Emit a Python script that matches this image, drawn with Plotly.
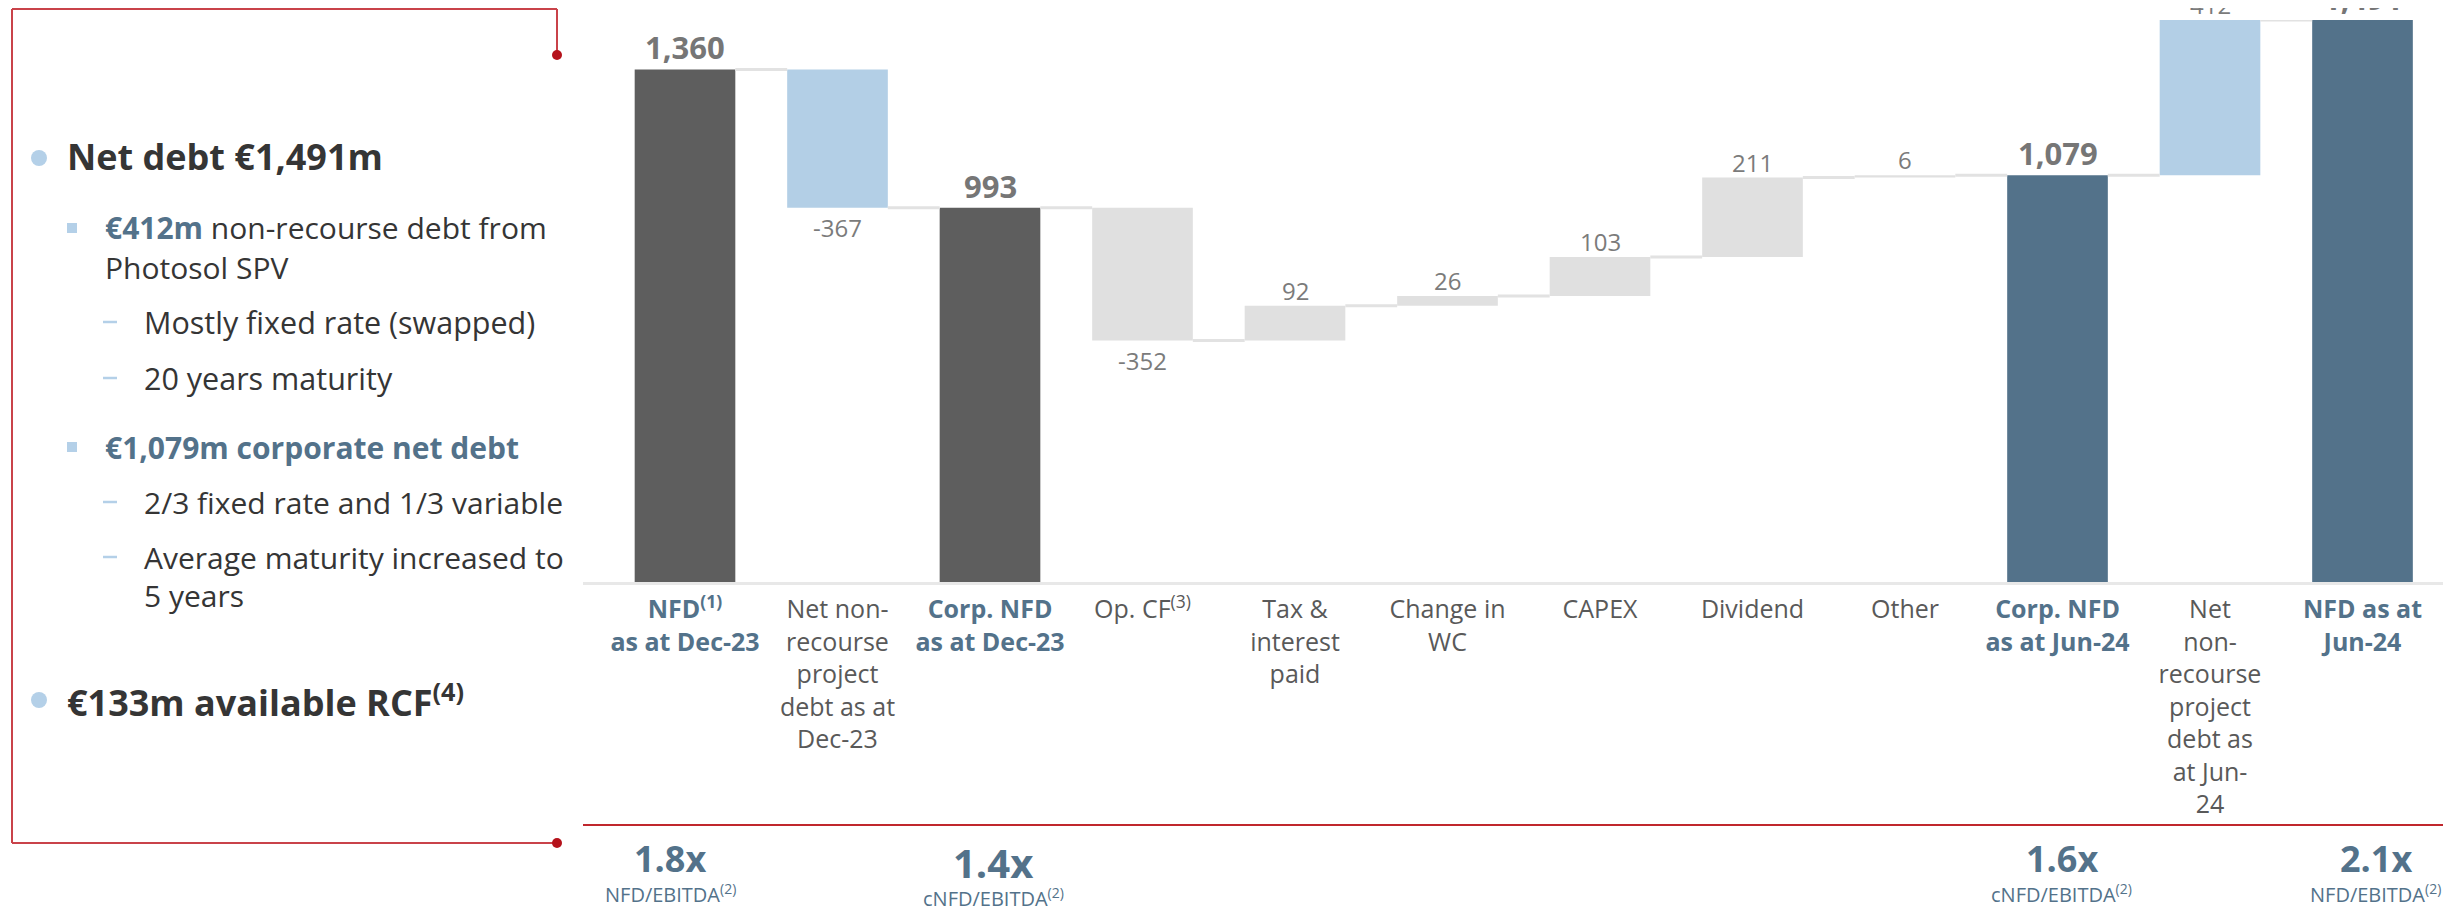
import plotly.graph_objects as go

W, H = 2451, 906
PAGE_PAD = 8  # default body margin of the html page
FW, FH = W - PAGE_PAD, H - PAGE_PAD
FONT = "Open Sans, Noto Sans, sans-serif"

# ---- data -------------------------------------------------------------
categories = [
    "NFD<sup>(1)</sup><br>as at Dec-23",
    "Net non-<br>recourse<br>project<br>debt as at<br>Dec-23",
    "Corp. NFD<br>as at Dec-23",
    "Op. CF<sup>(3)</sup>",
    "Tax &amp;<br>interest<br>paid",
    "Change in<br>WC",
    "CAPEX",
    "Dividend",
    "Other",
    "Corp. NFD<br>as at Jun-24",
    "Net<br>non-<br>recourse<br>project<br>debt as<br>at Jun-<br>24",
    "NFD as at<br>Jun-24",
]
values = [1360, -367, 993, -352, 92, 26, 103, 211, 6, 1079, 412, 1491]
measures = ["absolute", "relative", "total", "relative", "relative", "relative",
            "relative", "relative", "relative", "total", "relative", "total"]

ratio_positions = [0, 2, 9, 11]
ratio_values = ["1.8x", "1.4x", "1.6x", "2.1x"]
ratio_names = ["NFD/EBITDA<sup>(2)</sup>", "cNFD/EBITDA<sup>(2)</sup>",
               "cNFD/EBITDA<sup>(2)</sup>", "NFD/EBITDA<sup>(2)</sup>"]

# ---- colours ----------------------------------------------------------
DARK = "#5e5e5e"
SLATE = "#53728a"
LIGHT_BLUE = "#b3cfe6"
STEP_GREY = "#e0e0e0"
TEXT = "#353535"
LABEL_GREY = "#595959"
RED = "#c0272d"

bar_colors = [DARK, LIGHT_BLUE, DARK, STEP_GREY, STEP_GREY, STEP_GREY,
              STEP_GREY, STEP_GREY, STEP_GREY, SLATE, LIGHT_BLUE, SLATE]


def px(x):
    return (x - PAGE_PAD) / FW


def py(y):
    return 1 - (y - PAGE_PAD) / FH


# running totals -> bar bases / heights
bases, heights, levels = [], [], []
running = 0
for v, m in zip(values, measures):
    if m == "absolute":
        bases.append(0)
        heights.append(v)
        running = v
    elif m == "total":
        bases.append(0)
        heights.append(running)
    else:
        bases.append(running)
        heights.append(v)
        running += v
    levels.append(running)

n = len(values)
xs = list(range(n))
is_total = [m != "relative" for m in measures]

tick_text = [
    f'<span style="color:{SLATE}"><b>{c}</b></span>' if t else c
    for c, t in zip(categories, is_total)
]

fig = go.Figure()

# connectors between bars
cx, cy = [], []
for i in range(n - 1):
    cx += [i + 0.33, i + 0.67, None]
    cy += [levels[i], levels[i], None]
fig.add_trace(go.Scatter(
    x=cx, y=cy, mode="lines",
    line=dict(color="#e2e2e2", width=3),
    hoverinfo="skip", showlegend=False, cliponaxis=False
))

fig.add_trace(go.Bar(
    x=xs, y=heights, base=bases, width=0.66,
    marker=dict(color=bar_colors, line=dict(width=0)),
    hoverinfo="skip", showlegend=False
))

annotations = []

# value labels on the bars
for i, (v, b, h, t) in enumerate(zip(values, bases, heights, is_total)):
    if t:
        annotations.append(dict(
            x=i, xref="x", y=b + h, yref="y", yanchor="bottom", yshift=-1,
            text=f"<b>{v:,}</b>", showarrow=False,
            font=dict(family=FONT, size=31, color="#767676")
        ))
    elif v < 0:
        annotations.append(dict(
            x=i, xref="x", y=b + h, yref="y", yanchor="top", yshift=-1.5,
            text=f"{v:,}", showarrow=False,
            font=dict(family=FONT, size=24, color="#7b7b7b")
        ))
    else:
        annotations.append(dict(
            x=i, xref="x", y=b + h, yref="y", yanchor="bottom", yshift=-3,
            text=f"{v:,}", showarrow=False,
            font=dict(family=FONT, size=24, color="#7b7b7b")
        ))

# ratio row under the chart
ratio_shift = [-15, 3, 4, 13]
ratio_size = [36, 40, 36, 36]
ratio_y = [858, 862, 858, 858]
for pos, val, name, dx, s, yy in zip(ratio_positions, ratio_values, ratio_names,
                                     ratio_shift, ratio_size, ratio_y):
    annotations.append(dict(
        x=pos, xref="x", y=py(yy), yref="paper", xshift=dx,
        text=f"<b>{val}</b>", showarrow=False, xanchor="center", yanchor="middle",
        font=dict(family=FONT, size=s, color=SLATE)
    ))
    annotations.append(dict(
        x=pos, xref="x", y=py(yy + 35), yref="paper", xshift=dx,
        text=name, showarrow=False, xanchor="center", yanchor="middle",
        font=dict(family=FONT, size=20, color=SLATE)
    ))

# left text panel
panel = [
    (65, 157, "<b>Net debt €1,491m</b>", 36, TEXT),
    (103, 228, f'<span style="color:{SLATE}"><b>€412m</b></span> non-recourse debt from', 30, TEXT),
    (103, 268, "Photosol SPV", 30, TEXT),
    (142, 322, "Mostly fixed rate (swapped)", 30.5, TEXT),
    (142, 378, "20 years maturity", 30.5, TEXT),
    (103, 447, "<b>€1,079m corporate net debt</b>", 30, SLATE),
    (142, 502, "2/3 fixed rate and 1/3 variable", 30, TEXT),
    (142, 557, "Average maturity increased to", 30, TEXT),
    (142, 595, "5 years", 30, TEXT),
    (65, 700, "<b>€133m available RCF<sup>(4)</sup></b>", 36, TEXT),
]
for x, y, t, s, c in panel:
    annotations.append(dict(
        x=px(x), xref="paper", y=py(y), yref="paper", text=t,
        showarrow=False, xanchor="left", yanchor="middle",
        font=dict(family=FONT, size=s, color=c)
    ))

shapes = []
# bullets
for y in (158, 700):
    shapes.append(dict(type="circle", xref="paper", yref="paper",
                       x0=px(31), x1=px(47), y0=py(y - 8), y1=py(y + 8),
                       fillcolor="#b4d0e8", line=dict(width=0)))
for y in (228, 447):
    shapes.append(dict(type="rect", xref="paper", yref="paper",
                       x0=px(67), x1=px(77), y0=py(y - 5), y1=py(y + 5),
                       fillcolor="#b4d0e8", line=dict(width=0)))
for y in (322, 378, 502, 557):
    shapes.append(dict(type="line", xref="paper", yref="paper",
                       x0=px(103), x1=px(117), y0=py(y), y1=py(y),
                       line=dict(color="#b4d0e8", width=2.5)))

# red bracket round the text panel
bracket = [(12, 9, 557, 9), (557, 9, 557, 55), (12, 9, 12, 843), (12, 843, 557, 843)]
for x0, y0, x1, y1 in bracket:
    shapes.append(dict(type="line", xref="paper", yref="paper",
                       x0=px(x0), x1=px(x1), y0=py(y0), y1=py(y1),
                       line=dict(color="#c9434a", width=2)))
for y in (55, 843):
    shapes.append(dict(type="circle", xref="paper", yref="paper",
                       x0=px(552), x1=px(562), y0=py(y - 5), y1=py(y + 5),
                       fillcolor="#b5121b", line=dict(width=0)))

# red separator above the ratios
shapes.append(dict(type="line", xref="paper", yref="paper",
                   x0=px(583), x1=1, y0=py(825), y1=py(825),
                   line=dict(color=RED, width=2)))

x_lo = (583 - 685) / 152.5
x_hi = x_lo + (W - 583) / 152.5

fig.update_layout(
    width=FW, height=FH,
    margin=dict(l=0, r=0, t=0, b=0),
    paper_bgcolor="white", plot_bgcolor="white",
    showlegend=False,
    font=dict(family=FONT, color=LABEL_GREY),
    annotations=annotations,
    shapes=shapes,
    xaxis=dict(
        domain=[px(583), 1], range=[x_lo, x_hi],
        tickmode="array", tickvals=xs, ticktext=tick_text,
        tickfont=dict(family=FONT, size=25, color=LABEL_GREY),
        ticks="", ticklabelstandoff=3,
        showgrid=False, zeroline=False,
        showline=True, linecolor="#e8e8e8", linewidth=3,
        fixedrange=True,
    ),
    yaxis=dict(
        domain=[py(582), py(20)], range=[0, 1491],
        visible=False, fixedrange=True,
    ),
)

fig.write_html("out.html")
